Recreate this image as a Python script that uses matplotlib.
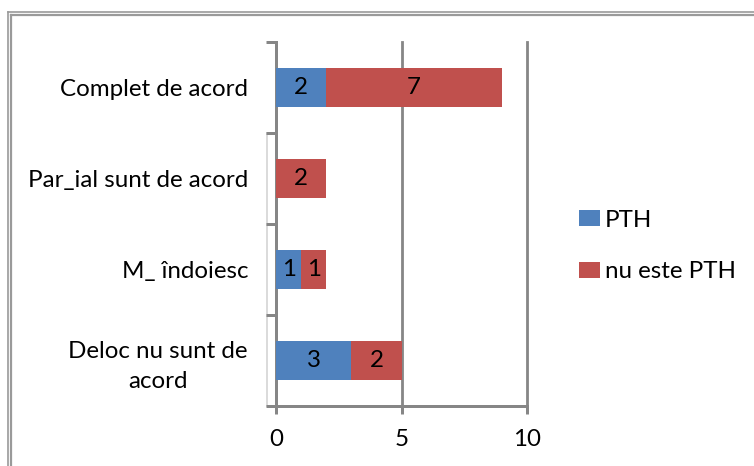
import matplotlib
matplotlib.use("Agg")
import matplotlib.pyplot as plt
from matplotlib.lines import Line2D
from matplotlib.patches import Patch
import numpy as np

categories = ["Deloc nu sunt de\nacord", "M_ îndoiesc", "Par_ial sunt de acord", "Complet de acord"]
pth = [3, 1, 0, 2]
nu_pth = [2, 1, 2, 7]
series_names = ["PTH", "nu este PTH"]
x_ticks = [0, 5, 10]

BLUE = "#4F81BD"
RED = "#C0504D"
GRID = "#868686"
FONT = "Lato"
FS = 17.4
PX = 72 / 100  # points per pixel

W, H = 754, 466
fig = plt.figure(figsize=(W / 100, H / 100), dpi=100)
ax = fig.add_axes([276 / W, 1 - 406 / H, 251 / W, 364 / H])

y = np.arange(len(categories))
bh = 0.42
b1 = ax.barh(y, pth, height=bh, color=BLUE, edgecolor="none", zorder=3)
b2 = ax.barh(y, nu_pth, left=pth, height=bh, color=RED, edgecolor="none", zorder=3)

for vals, lefts in ((pth, [0] * len(pth)), (nu_pth, pth)):
    for yi, v, l in zip(y, vals, lefts):
        if v:
            ax.text(l + v / 2, yi, str(v), ha="center", va="center",
                    fontsize=FS, family=FONT, color="black", zorder=4)

ax.set_xlim(0, 10)
ax.set_ylim(-0.5, len(categories) - 0.5)

# vertical gridlines
for xv in x_ticks[1:]:
    ax.axvline(xv, color=GRID, lw=2 * PX * 1.4, zorder=1, clip_on=False)

# faint wall edge left of the category axis
ax.plot([-0.36, -0.36], [-0.5, 2.5], color="#d4d4d4", lw=1.2, clip_on=False, zorder=0)

for s in ("top", "right"):
    ax.spines[s].set_visible(False)
for s in ("left", "bottom"):
    ax.spines[s].set_color(GRID)
    ax.spines[s].set_linewidth(3 * PX)

ax.set_xticks(x_ticks)
ax.set_xticklabels([str(t) for t in x_ticks], fontsize=FS, family=FONT)
ax.tick_params(axis="x", length=8 * PX, width=3 * PX, color=GRID, pad=15 * PX)

# category boundaries as major ticks, labels on minor ticks
ax.set_yticks(np.arange(-0.5, len(categories), 1.0))
ax.set_yticklabels([])
ax.tick_params(axis="y", which="major", length=10 * PX, width=3 * PX, color=GRID)
ax.set_yticks(y, minor=True)
ax.set_yticklabels(categories, minor=True, fontsize=FS, family=FONT,
                   ha="right", multialignment="center", linespacing=1.5)
ax.tick_params(axis="y", which="minor", length=0, pad=28 * PX)

handles = [Patch(facecolor=BLUE, edgecolor="none"), Patch(facecolor=RED, edgecolor="none")]
fig.legend(handles, series_names, loc="center left",
           bbox_to_anchor=(579 / W, 1 - 246 / H), frameon=False,
           prop={"family": FONT, "size": FS}, handlelength=0.85, handleheight=0.65,
           handletextpad=0.22, labelspacing=1.25, borderpad=0, borderaxespad=0)

# double frame around the chart
for off, lw in ((0, 1.2), (3, 1.6)):
    fig.add_artist(Line2D([(8 + off) / W, 1.0], [1 - (12 + off) / H] * 2,
                          transform=fig.transFigure, color="#9a9a9a", lw=lw))
    fig.add_artist(Line2D([(8 + off) / W] * 2, [0.0, 1 - (12 + off) / H],
                          transform=fig.transFigure, color="#9a9a9a", lw=lw))

fig.savefig("out.png", dpi=100)
